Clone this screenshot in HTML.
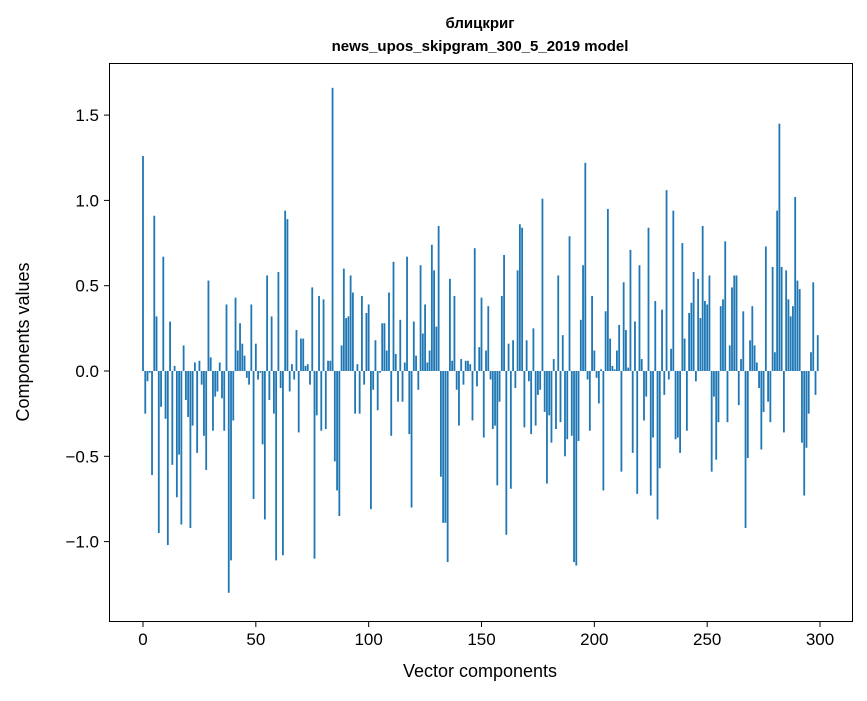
<!DOCTYPE html>
<html><head><meta charset="utf-8"><style>
body{margin:0;background:#fff;font-family:"Liberation Sans","DejaVu Sans",sans-serif}
svg text{font-family:"Liberation Sans","DejaVu Sans",sans-serif}
</style></head><body>
<svg id="chart" width="867" height="696" xmlns="http://www.w3.org/2000/svg">
<rect width="867" height="696" fill="#fff"/>
<text x="480" y="28" text-anchor="middle" font-size="15" font-weight="bold">блицкриг</text>
<text x="480" y="51" text-anchor="middle" font-size="15" font-weight="bold">news_upos_skipgram_300_5_2019 model</text>
<g id="bars"></g>
<rect x="109.5" y="63.5" width="743" height="558" fill="none" stroke="#000" stroke-width="1"/>
<g id="xticks"></g>
<g id="yticks"></g>
<text x="480" y="677" text-anchor="middle" font-size="18">Vector components</text>
<text transform="translate(29,342) rotate(-90)" text-anchor="middle" font-size="18">Components values</text>
</svg>
<script>
const values = [1.26,-0.25,-0.06,-0.01,-0.61,0.91,0.32,-0.95,-0.21,0.67,-0.28,-1.02,0.29,-0.55,0.03,-0.74,-0.49,-0.90,0.15,-0.17,-0.27,-0.92,-0.32,0.05,-0.48,0.06,-0.08,-0.38,-0.58,0.53,0.08,-0.35,-0.15,-0.12,0.05,-0.16,-0.35,0.39,-1.30,-1.11,-0.29,0.43,0.12,0.28,0.16,0.09,-0.04,-0.08,0.39,-0.75,
0.16,-0.05,-0.01,-0.43,-0.87,0.56,-0.17,0.32,-0.25,-1.11,0.58,-0.10,-1.08,0.94,0.89,-0.12,0.04,-0.05,0.24,-0.36,0.19,0.19,0.03,0.04,-0.08,0.49,-1.10,-0.26,0.44,-0.35,0.42,-0.34,0.06,0.06,1.66,-0.53,-0.70,-0.85,0.15,0.60,0.31,0.32,0.56,0.46,-0.25,0.04,-0.25,0.44,-0.08,0.34,
0.39,-0.81,-0.11,0.18,-0.23,-0.01,0.28,0.28,0.12,0.46,-0.38,0.64,0.10,-0.18,0.30,-0.18,0.05,0.67,-0.37,-0.80,0.29,0.09,-0.11,0.62,0.22,0.39,0.05,0.12,0.74,0.59,0.26,0.85,-0.62,-0.89,-0.89,-1.12,0.54,0.06,0.44,-0.11,-0.32,0.07,-0.08,0.06,0.06,0.04,-0.29,0.72,-0.09,0.14,
0.43,-0.39,0.12,0.38,-0.05,-0.34,-0.32,-0.67,-0.18,0.44,0.68,-0.96,0.16,-0.69,0.18,-0.10,0.59,0.86,0.84,-0.33,0.18,-0.06,-0.37,0.25,-0.32,-0.14,-0.11,1.01,-0.24,-0.66,-0.26,-0.42,0.07,-0.34,0.56,-0.30,0.21,-0.50,-0.40,0.79,-0.38,-1.12,-1.14,-0.41,0.30,0.62,1.22,-0.05,-0.35,0.44,
0.12,-0.04,-0.19,0.01,-0.70,0.35,0.95,0.19,0.03,0.01,0.12,0.27,-0.59,0.52,0.24,0.02,0.71,-0.48,0.29,-0.72,0.62,0.07,-0.29,-0.15,0.84,-0.73,-0.39,0.41,-0.87,-0.57,0.36,-0.14,1.06,-0.05,0.13,0.94,-0.40,-0.39,-0.48,0.75,0.19,-0.35,0.34,0.40,0.58,-0.06,0.54,0.31,0.85,0.41,
0.39,0.56,-0.59,-0.15,-0.52,-0.30,0.38,0.42,0.76,-0.30,0.15,0.49,0.56,0.56,-0.20,0.07,0.35,-0.92,-0.51,0.18,0.38,0.15,0.05,-0.10,-0.46,-0.24,0.73,-0.18,-0.30,0.61,0.11,0.94,1.45,0.61,-0.36,0.59,0.42,0.32,0.38,1.02,0.53,0.48,-0.42,-0.73,-0.45,-0.25,0.11,0.52,-0.14,0.21];
const xTicks = [0,50,100,150,200,250,300];
const yTicks = [-1.0,-0.5,0.0,0.5,1.0,1.5];
const NS='http://www.w3.org/2000/svg';
function xs(v){return 143+v*2.2567;}
function ys(v){return 371-v*170.6;}
const bars=document.getElementById('bars');
values.forEach((v,i)=>{
  const r=document.createElementNS(NS,'rect');
  
  
  const x0=xs(i-0.4), x1=xs(i+0.4);
  r.setAttribute('x',x0);r.setAttribute('width',x1-x0);
  r.setAttribute('y',Math.min(ys(v),ys(0)));
  r.setAttribute('height',Math.abs(ys(v)-ys(0)));
  r.setAttribute('fill','#1f77b4');
  bars.appendChild(r);
});
const xg=document.getElementById('xticks');
xTicks.forEach(t=>{
  const l=document.createElementNS(NS,'line');
  
  
  l.setAttribute('x1',xs(t));l.setAttribute('x2',xs(t));l.setAttribute('y1',622);l.setAttribute('y2',627);l.setAttribute('stroke','#000');
  xg.appendChild(l);
  const tx=document.createElementNS(NS,'text');
  
  
  tx.setAttribute('x',xs(t));tx.setAttribute('y',645);tx.setAttribute('text-anchor','middle');tx.setAttribute('font-size','17');
  tx.textContent=t;xg.appendChild(tx);
});
const yg=document.getElementById('yticks');
yTicks.forEach(t=>{
  const l=document.createElementNS(NS,'line');
  
  
  l.setAttribute('x1',104);l.setAttribute('x2',109);l.setAttribute('y1',ys(t));l.setAttribute('y2',ys(t));l.setAttribute('stroke','#000');
  yg.appendChild(l);
  const tx=document.createElementNS(NS,'text');
  
  
  tx.setAttribute('x',99);tx.setAttribute('y',ys(t)+6);tx.setAttribute('text-anchor','end');tx.setAttribute('font-size','17');
  tx.textContent=(t<0?'\u2212':'')+Math.abs(t).toFixed(1);yg.appendChild(tx);
});
</script>
</body></html>
